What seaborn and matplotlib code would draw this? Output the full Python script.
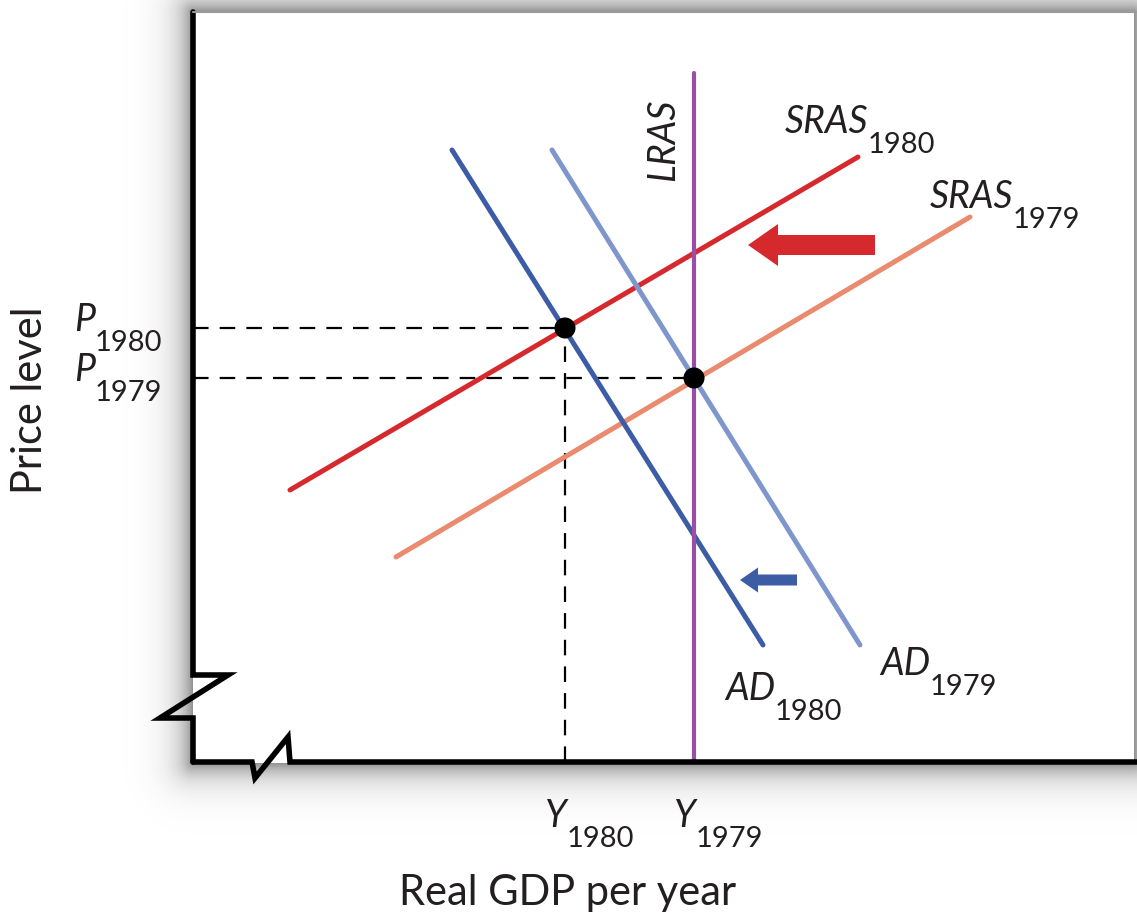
import matplotlib
matplotlib.use('Agg')
import matplotlib.pyplot as plt
import seaborn as sb
import numpy as np
import pandas as pd

# curve endpoints (data units)
curbe = ['SRAS1980', 'SRAS1979', 'AD1980', 'AD1979']
x_sras1980 = [9.7, 66.5]
y_sras1980 = [27.2, 60.5]
x_sras1979 = [20.3, 77.7]
y_sras1979 = [20.5, 54.5]
x_ad1980 = [25.9, 57.0]
y_ad1980 = [61.2, 11.7]
x_ad1979 = [35.9, 66.7]
y_ad1979 = [61.2, 11.7]
culori = {'SRAS1980': '#d6292e', 'SRAS1979': '#ea8a6e',
          'AD1980': '#3d5ca6', 'AD1979': '#7f96cc'}

x_lras = 50.1
y_lras = [0, 68.9]

# equilibria
eq_x = [37.2, 50.1]
eq_y = [43.4, 38.4]
indici = ['1980', '1979']

df = pd.DataFrame({
    'curba': [c for c in curbe for _ in range(2)],
    'x': x_sras1980 + x_sras1979 + x_ad1980 + x_ad1979,
    'y': y_sras1980 + y_sras1979 + y_ad1980 + y_ad1979,
})

sb.set_style('white')
plt.rcParams['font.family'] = ['Lato', 'DejaVu Sans']

W, H = 1137, 917
fig = plt.figure(figsize=(W / 100, H / 100), dpi=100)

# soft shadow around the frame
fundal = fig.add_axes([0, 0, 1, 1])
px, py = np.meshgrid(np.arange(W), np.arange(H))
x0, x1, y0, y1 = 193, 1133, 12, 762
dx = np.maximum(np.maximum(x0 - px, px - x1), 0)
dy = np.maximum(np.maximum(y0 - py, py - y1), 0)
d = np.hypot(dx, dy)
umbra = 1 - 0.45 * np.exp(-d / 15.0)
umbra[(px >= x0) & (px <= x1) & (py >= y0) & (py <= y1)] = 1.0
fundal.imshow(umbra, cmap='gray', vmin=0, vmax=1, aspect='auto')
fundal.axis('off')

ax = fig.add_axes([193 / W, (H - 762) / H, (W - 193) / W, 750 / H])
ax.set_facecolor('none')
ax.set_xlim(0, 94.4)
ax.set_ylim(0, 75)
for s in ax.spines.values():
    s.set_visible(False)


def eticheta(x, y, principal, indice, fs=27, fs_ind=21, ha='left'):
    t = ax.text(x, y, principal, style='italic', fontsize=fs, ha=ha,
                va='baseline', color='#231f20', clip_on=False)
    ax.annotate(indice, xy=(1, 0), xycoords=t, xytext=(-0.5, -9.5),
                textcoords='offset points', fontsize=fs_ind, ha='left',
                va='baseline', color='#231f20', annotation_clip=False)


# dashed guides
ax.plot([0, eq_x[0]], [eq_y[0], eq_y[0]], color='k', lw=1.6, dashes=(7, 5))
ax.plot([0, eq_x[1]], [eq_y[1], eq_y[1]], color='k', lw=1.6, dashes=(7, 5))
ax.plot([eq_x[0], eq_x[0]], [0, eq_y[0]], color='k', lw=1.6, dashes=(7, 5))

sb.lineplot(data=df, x='x', y='y', hue='curba', palette=culori, sort=False,
            estimator=None, lw=3.6, legend=False, ax=ax)
ax.plot([x_lras, x_lras], y_lras, color='#9b4ea6', lw=3.0)

sb.scatterplot(x=eq_x, y=eq_y, color='k', s=230, edgecolor='none', zorder=5, ax=ax)

# shift arrows
ax.arrow(68.2, 51.7, -9.7, 0, width=2.0, head_width=4.2, head_length=3.0,
         color='#d6292e', lw=0)
ax.arrow(60.4, 18.2, -3.9, 0, width=1.1, head_width=2.5, head_length=1.8,
         color='#3d5ca6', lw=0)

# curve labels
ax.text(47.0, 62.2, 'LRAS', rotation=90, style='italic', fontsize=27,
        ha='center', va='center', color='#231f20')
eticheta(59.2, 62.9, 'SRAS', '1980')
eticheta(73.7, 55.4, 'SRAS', '1979')
eticheta(53.2, 6.2, 'AD', '1980')
eticheta(68.7, 8.7, 'AD', '1979')

# axis value labels
ax.set_xticks([])
ax.set_yticks([])
ax.set_xlabel('')
ax.set_ylabel('')
for yv, ind in zip(eq_y, indici):
    eticheta(-11.9, yv - 0.3, 'P', ind)
for xv, ind in zip(eq_x, indici):
    eticheta(xv - 2.0, -6.5, 'Y', ind)

ax.text(-16.3, 36.2, 'Price level', rotation=90, fontsize=30,
        ha='center', va='center', color='#231f20', clip_on=False)
ax.text(37.5, -14.3, 'Real GDP per year', fontsize=30,
        ha='center', va='baseline', color='#231f20', clip_on=False)

# frame with axis breaks
ax.plot([0, 0, 3.5, -3.3, 0, 0],
        [75, 8.7, 8.7, 4.4, 4.4, 0], color='k', lw=4.0, clip_on=False,
        solid_joinstyle='miter')
ax.plot([0, 5.9, 6.2, 9.5, 9.7, 94.4],
        [0, 0, -1.6, 2.5, 0, 0], color='k', lw=4.0, clip_on=False,
        solid_joinstyle='miter')
ax.plot([0, 94.4], [75, 75], color='#9a9a9a', lw=1.5, clip_on=False)

fig.savefig('out.png', dpi=100)
